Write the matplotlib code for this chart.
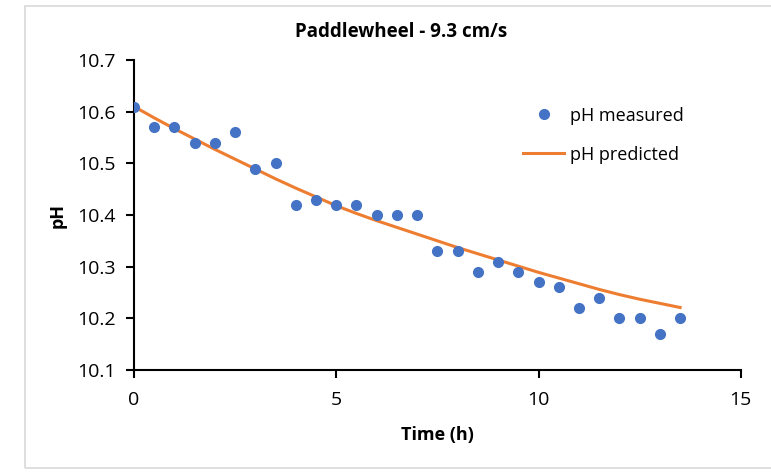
import numpy as np
import matplotlib
matplotlib.use('Agg')
import matplotlib.pyplot as plt
from matplotlib.patches import Rectangle

# measured pH values, every half hour
time_meas = [0, 0.5, 1, 1.5, 2, 2.5, 3, 3.5, 4, 4.5, 5, 5.5, 6, 6.5,
             7, 7.5, 8, 8.5, 9, 9.5, 10, 10.5, 11, 11.5, 12, 12.5, 13, 13.5]
ph_meas = [10.61, 10.57, 10.57, 10.54, 10.54, 10.56, 10.49, 10.50, 10.42, 10.43,
           10.42, 10.42, 10.40, 10.40, 10.40, 10.33, 10.33, 10.29, 10.31, 10.29,
           10.27, 10.26, 10.22, 10.24, 10.20, 10.20, 10.17, 10.20]

# model curve
time_pred = time_meas
ph_pred = [10.610, 10.588, 10.567, 10.547, 10.527, 10.508, 10.489, 10.470, 10.452, 10.435,
           10.418, 10.403, 10.389, 10.376, 10.363, 10.350, 10.337, 10.325, 10.313, 10.301,
           10.289, 10.278, 10.267, 10.256, 10.246, 10.237, 10.229, 10.221]

BLUE = '#4472C4'
ORANGE = '#ED7D31'
FONT = 'Open Sans'

plt.rcParams['font.family'] = [FONT, 'DejaVu Sans']

fig = plt.figure(figsize=(7.71, 4.74), dpi=100)
ax = fig.add_axes([0.1738, 0.2194, 0.787, 0.654])

# grey chart-area frame
fig.patches.append(Rectangle((25 / 771, 6 / 474), 1.0, 462 / 474, transform=fig.transFigure,
                             fill=False, edgecolor='#D9D9D9', lw=1.2))

ax.plot(time_meas, ph_meas, 'o', color=BLUE, ms=7, label='pH measured', zorder=3)
ax.plot(time_pred, ph_pred, '-', color=ORANGE, lw=2.2, label='pH predicted', zorder=2)

ax.set_xlim(0, 15)
ax.set_ylim(10.1, 10.7)
ax.set_xticks([0, 5, 10, 15])
ax.set_yticks(np.round(np.arange(10.1, 10.71, 0.1), 1))
ax.yaxis.set_major_formatter(matplotlib.ticker.FormatStrFormatter('%.1f'))

for side in ('top', 'right'):
    ax.spines[side].set_visible(False)
for side in ('left', 'bottom'):
    ax.spines[side].set_linewidth(1.5)
    ax.spines[side].set_color('black')
ax.tick_params(direction='out', length=6, width=1.5, labelsize=14, colors='black')
ax.tick_params(axis='x', pad=9)
ax.tick_params(axis='y', pad=7)

ax.set_xlabel('Time (h)', fontsize=13, fontweight='bold', labelpad=12)
ax.set_ylabel('pH', fontsize=13, fontweight='bold', labelpad=8)
# title is centred on the whole chart area, not the plot area
fig.text(0.52, 1 - 32 / 474, 'Paddlewheel - 9.3 cm/s', fontsize=13.5, fontweight='bold',
         ha='center', va='center')

ax.legend(loc='upper left', bbox_to_anchor=(0.641, 0.849), frameon=False, fontsize=13,
          handlelength=2.3, handletextpad=0.3, labelspacing=1.15,
          borderaxespad=0, borderpad=0)

fig.savefig('out.png', dpi=100)
